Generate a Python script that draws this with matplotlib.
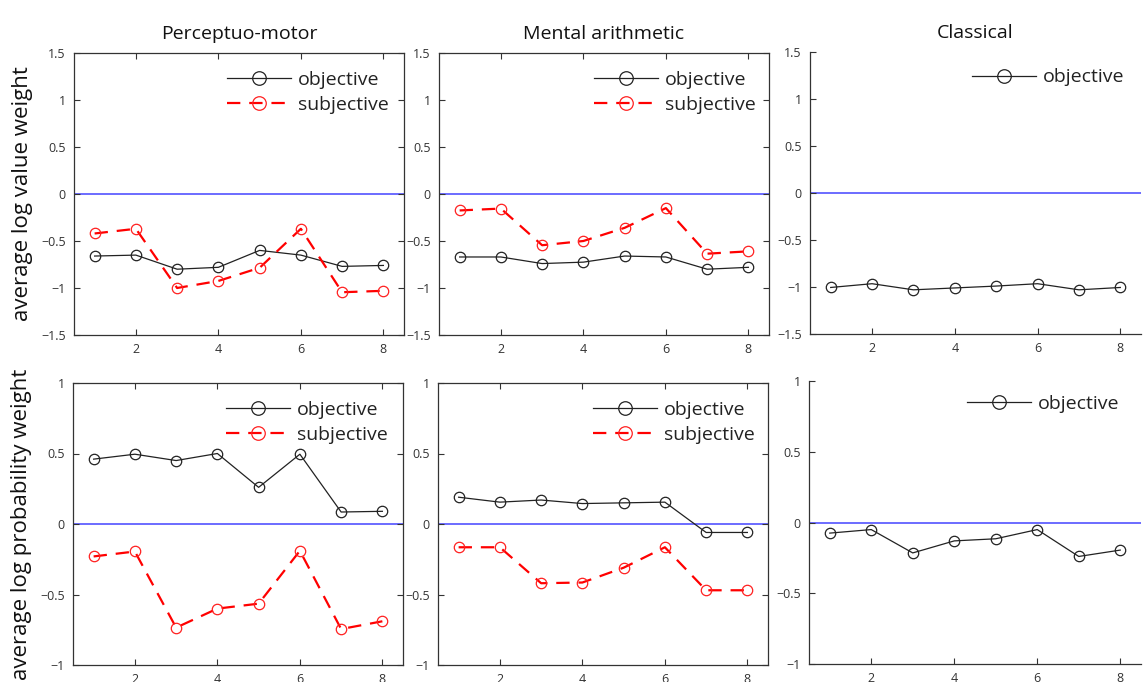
import matplotlib
matplotlib.use("Agg")
import matplotlib.pyplot as plt
import numpy as np

plt.rcParams['font.family'] = ['Open Sans', 'DejaVu Sans']

trials = [1, 2, 3, 4, 5, 6, 7, 8]
titles = ["Perceptuo-motor", "Mental arithmetic", "Classical"]
ylabels = ["average log value weight", "average log probability weight"]

# value weights (top row)
pm_value_obj = [-0.66, -0.65, -0.80, -0.78, -0.60, -0.65, -0.77, -0.76]
pm_value_subj = [-0.42, -0.37, -1.00, -0.925, -0.785, -0.37, -1.045, -1.03]
ma_value_obj = [-0.67, -0.67, -0.74, -0.725, -0.66, -0.67, -0.80, -0.78]
ma_value_subj = [-0.175, -0.155, -0.545, -0.50, -0.36, -0.15, -0.635, -0.61]
cl_value_obj = [-1.005, -0.965, -1.03, -1.01, -0.99, -0.965, -1.03, -1.005]

# probability weights (bottom row)
pm_prob_obj = [0.46, 0.495, 0.45, 0.50, 0.26, 0.495, 0.085, 0.09]
pm_prob_subj = [-0.23, -0.195, -0.735, -0.60, -0.565, -0.19, -0.745, -0.69]
ma_prob_obj = [0.19, 0.155, 0.17, 0.145, 0.15, 0.155, -0.06, -0.06]
ma_prob_subj = [-0.165, -0.165, -0.42, -0.415, -0.31, -0.165, -0.47, -0.47]
cl_prob_obj = [-0.075, -0.05, -0.215, -0.13, -0.115, -0.05, -0.24, -0.195]

W, H = 1144, 682
fig = plt.figure(figsize=(W / 100, H / 100), dpi=100)

def add_ax(x0, y0, x1, y1):
    return fig.add_axes([x0 / W, 1 - y1 / H, (x1 - x0) / W, (y1 - y0) / H])

boxes = [
    [(74, 53, 404, 335), (439, 53, 769, 335), (810, 52, 1141, 334)],
    [(73, 383, 403, 665), (438, 383, 768, 665), (809, 381, 1141, 664)],
]
rows = [
    [(pm_value_obj, pm_value_subj), (ma_value_obj, ma_value_subj), (cl_value_obj, None)],
    [(pm_prob_obj, pm_prob_subj), (ma_prob_obj, ma_prob_subj), (cl_prob_obj, None)],
]
ylims = [(-1.5, 1.5), (-1, 1)]
yticks = [[-1.5, -1, -0.5, 0, 0.5, 1, 1.5], [-1, -0.5, 0, 0.5, 1]]
legend_anchor = [
    [(0.995, 0.985), (1.0, 0.985), (0.99, 0.99)],
    [(0.995, 0.985), (1.0, 0.985), (0.975, 1.0)],
]

def fmt(v):
    if v == 0:
        return "0"
    s = ("%g" % v)
    return s.replace("-", "\u2212")

for r in range(2):
    for c in range(3):
        ax = add_ax(*boxes[r][c])
        obj, subj = rows[r][c]
        ax.axhline(0, color="#6b6bff", lw=1.4, zorder=1)
        ax.plot(trials, obj, color="#222222", lw=0.9, marker="o", ms=7.5,
                mfc="none", mec="#222222", mew=0.9, label="objective", zorder=3)
        if subj is not None:
            ax.plot(trials, subj, color="#ff0000", lw=1.6, ls=(0, (6, 4)), marker="o", ms=7.5,
                    mfc="none", mec="#ff2020", mew=0.9, label="subjective", zorder=3)
        ax.set_xlim(0.5, 8.5)
        ax.set_ylim(*ylims[r])
        ax.set_xticks([2, 4, 6, 8])
        ax.set_yticks(yticks[r])
        ax.set_yticklabels([fmt(v) for v in yticks[r]])
        full_box = c < 2
        ax.tick_params(direction="in", length=4, width=0.8, colors="#333333",
                       labelsize=9, labelcolor="#333333", top=full_box, right=full_box, pad=6)
        for s in ax.spines.values():
            s.set_color("#333333")
            s.set_linewidth(0.9)
        if not full_box:
            ax.spines["top"].set_visible(False)
            ax.spines["right"].set_visible(False)
        leg = ax.legend(loc="upper right", bbox_to_anchor=legend_anchor[r][c], frameon=False,
                        fontsize=14, handlelength=3.3, handletextpad=0.35, labelspacing=0.35,
                        borderaxespad=0.3, markerscale=1.3)
        for t in leg.get_texts():
            t.set_color("#222222")
        if r == 0:
            ax.set_title(titles[c], fontsize=14, pad=10, color="#111111")
        if c == 0:
            ax.set_ylabel(ylabels[r], fontsize=16, color="#111111", labelpad=6)

fig.savefig("out.png", dpi=100)
